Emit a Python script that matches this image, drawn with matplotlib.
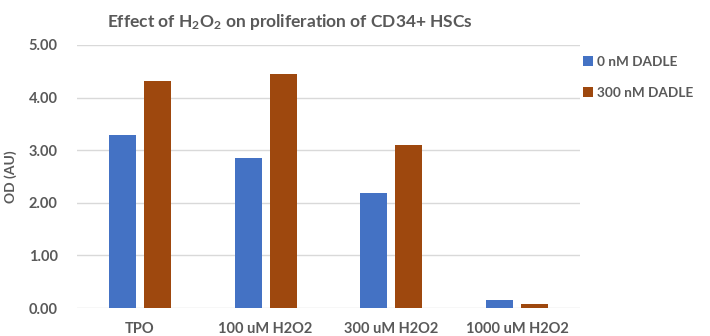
import matplotlib.pyplot as plt
import numpy as np

plt.rcParams['font.family'] = ['Lato', 'DejaVu Sans']
plt.rcParams['mathtext.fontset'] = 'custom'
plt.rcParams['mathtext.rm'] = 'Lato:bold'
plt.rcParams['mathtext.it'] = 'Lato:bold'
plt.rcParams['mathtext.bf'] = 'Lato:bold'

categories = ['TPO', '100 uM H2O2', '300 uM H2O2', '1000 uM H2O2']
dadle_0 = [3.29, 2.86, 2.19, 0.15]
dadle_300 = [4.31, 4.45, 3.10, 0.07]
series_names = ['0 nM DADLE', '300 nM DADLE']

text_color = '#595959'
colors = ['#4472C4', '#9E480E']

fig = plt.figure(figsize=(7.1, 3.36), dpi=100)
ax = fig.add_axes([77 / 710, 1 - 308 / 336, 503 / 710, 263 / 336])

x = np.arange(len(categories))
width = 0.215
ax.bar(x - 0.14, dadle_0, width, color=colors[0], label=series_names[0], zorder=3)
ax.bar(x + 0.14, dadle_300, width, color=colors[1], label=series_names[1], zorder=3)

ax.set_xlim(-0.5, len(categories) - 0.5)
ax.set_ylim(0, 5)
ax.set_yticks(np.arange(0, 5.01, 1))
ax.set_yticklabels([f'{v:.2f}' for v in np.arange(0, 5.01, 1)])
ax.set_xticks(x)
ax.set_xticklabels(categories)
ax.tick_params(length=0, colors=text_color, labelsize=10.5)
ax.tick_params(axis='x', pad=10)
ax.tick_params(axis='y', pad=14)
for lbl in ax.get_xticklabels() + ax.get_yticklabels():
    lbl.set_fontweight('bold')

ax.grid(axis='y', color='#D9D9D9', linewidth=1, zorder=0)
for s in ax.spines.values():
    s.set_visible(False)

ax.set_ylabel('OD (AU)', color=text_color, fontsize=10, fontweight='bold', labelpad=8)

fig.text(290 / 710, 1 - 22 / 336, r'Effect of H$_{2}$O$_{2}$ on proliferation of CD34+ HSCs',
         ha='center', va='center', fontsize=12.5, fontweight='bold', color=text_color)

ax.legend(loc='upper left', bbox_to_anchor=(0.99, 0.99), frameon=False,
          handlelength=0.7, handleheight=0.7, handletextpad=0.35, labelspacing=1.4,
          borderaxespad=0.2, prop={'weight': 'bold', 'size': 9.8}, labelcolor=text_color)

fig.savefig('out.png', dpi=100)
